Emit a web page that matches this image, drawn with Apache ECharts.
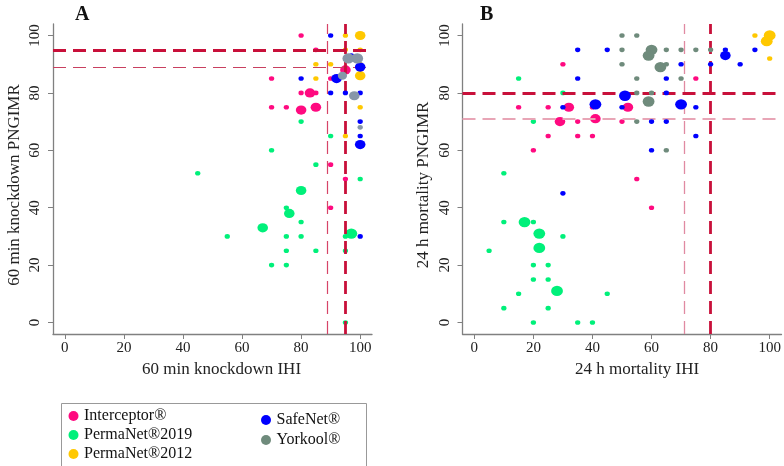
<!DOCTYPE html>
<html>
<head>
<meta charset="utf-8">
<script src="https://cdn.jsdelivr.net/npm/echarts@6/dist/echarts.min.js"></script>
<style>html,body{margin:0;padding:0;background:#fff}#c{width:784px;height:466px}</style>
</head>
<body>
<div id="c"></div>
<script>
// ---- data: [x, y, n] (n = relative bubble weight) ----
const seriesNames = ['Interceptor®', 'PermaNet®2019', 'PermaNet®2012', 'SafeNet®', 'Yorkool®'];
const tickValues = [0, 20, 40, 60, 80, 100];

// Panel A: 60 min knockdown
const interceptorA = [[80,100,1],[85,95,1],[95,88,4],[70,85,1],[90,85,1],[80,80,1],[85,80,1],[83,80,4],[70,75,1],[75,75,1],[80,74,4],[85,75,4],[90,55,1],[95,50,1],[90,40,1]];
const permanet2019A = [[80,70,1],[90,65,1],[70,60,1],[85,55,1],[100,50,1],[45,52,1],[80,46,4],[75,40,1],[76,38,4],[80,35,1],[67,33,4],[55,30,1],[75,30,1],[80,30,1],[95,30,1],[97,31,5],[75,25,1],[85,25,1],[95,25,1],[70,20,1],[75,20,1],[95,0,1]];
const permanet2012A = [[95,100,1],[100,100,4],[95,95,1],[100,95,1],[85,90,1],[90,90,1],[100,90,1],[85,85,1],[100,86,4],[100,75,1],[95,65,1]];
const safenetA = [[90,100,1],[97,93,1],[100,89,4],[80,85,1],[92,85,4],[90,80,1],[95,80,1],[100,80,1],[100,70,1],[100,65,1],[100,62,4],[100,30,1]];
const yorkoolA = [[96,92,5],[99,92,5],[94,86,3],[98,79,4],[100,68,1]];
const thresholdsA = {thick: 95, thin: 89};

// Panel B: 24 h mortality
const interceptorB = [[30,90,1],[75,85,1],[15,75,1],[25,75,1],[40,75,1],[32,75,4],[52,75,4],[35,70,1],[29,70,4],[41,71,4],[50,70,1],[25,65,1],[35,65,1],[40,65,1],[20,60,1],[55,50,1],[60,40,1]];
const permanet2019B = [[15,85,1],[30,80,1],[20,70,1],[10,52,1],[10,35,1],[17,35,5],[20,35,1],[22,31,5],[30,30,1],[5,25,1],[22,26,5],[20,20,1],[25,20,1],[20,15,1],[25,15,1],[28,11,5],[15,10,1],[45,10,1],[10,5,1],[25,5,1],[20,0,1],[35,0,1],[40,0,1]];
const permanet2012B = [[95,100,1],[100,100,5],[99,98,5],[100,92,1]];
const safenetB = [[35,95,1],[45,95,1],[85,95,1],[95,95,1],[85,93,4],[70,90,1],[80,90,1],[90,90,1],[35,85,1],[65,85,1],[65,80,1],[51,79,5],[30,75,1],[50,75,1],[41,76,5],[70,76,5],[75,75,1],[60,70,1],[65,70,1],[75,65,1],[60,60,1],[30,45,1]];
const yorkoolB = [[50,100,1],[55,100,1],[50,95,1],[65,95,1],[70,95,1],[75,95,1],[80,95,1],[60,95,5],[59,93,5],[50,90,1],[65,90,1],[63,89,5],[55,85,1],[70,85,1],[55,80,1],[60,80,1],[59,77,5],[55,70,1],[65,60,1]];
const thresholdsB = {thick: 80, thin: 71};

const xTitles = ['60 min knockdown IHI', '24 h mortality IHI'];
const yTitles = ['60 min knockdown PNGIMR', '24 h mortality PNGIMR'];
const panelLabels = ['A', 'B'];

// ---- styles ----
const FONT = 'Liberation Serif';
const colors = {
  'Interceptor®': '#FF0A80',
  'PermaNet®2019': '#00F07A',
  'PermaNet®2012': '#FFC800',
  'SafeNet®': '#0000FF',
  'Yorkool®': '#6F8B7C'
};
const yorkoolColorA = '#8797A8';

function sizeFn(v) { const d = 4.6 * Math.sqrt(v[2]); return [d * 1.15, d]; }

function mkAxisX(gi, name, padL) {
  return {
    type: 'value', gridIndex: gi, min: -4, max: 104,
    name: name, nameLocation: 'middle', nameGap: 24,
    nameTextStyle: {fontFamily: FONT, fontSize: 17, color: '#222', padding: [0,0,0,padL]},
    axisLine: {show: true, onZero: false, lineStyle: {color: '#808080', width: 1.3}},
    axisTick: {show: true, inside: false, length: 5, customValues: tickValues, lineStyle: {color: '#808080'}},
    axisLabel: {customValues: tickValues, fontFamily: FONT, fontSize: 15, color: '#222', margin: 7},
    splitLine: {show: false}
  };
}
function mkAxisY(gi, name) {
  return {
    type: 'value', gridIndex: gi, min: -4, max: 104,
    name: name, nameLocation: 'middle', nameGap: 30,
    nameTextStyle: {fontFamily: FONT, fontSize: 17, color: '#222', padding: [0,12,0,0]},
    axisLine: {show: true, onZero: false, lineStyle: {color: '#808080', width: 1.3}},
    axisTick: {show: true, inside: false, length: 5, customValues: tickValues, lineStyle: {color: '#808080'}},
    axisLabel: {customValues: tickValues, rotate: 90, fontFamily: FONT, fontSize: 15, color: '#222', margin: 10},
    splitLine: {show: false}
  };
}

function refLines(idx, th) {
  const thick = {color: '#C8103A', width: 2.8, type: [13, 7]};
  const thin = idx === 0 ? {color: '#D64468', width: 1.2, type: [13, 7]} : {color: '#E08AA2', width: 1.3, type: [13, 7]};
  const thinH = idx === 0 ? {color: '#C84060', width: 1.2, type: [13, 7]} : {color: '#E8A5B6', width: 2, type: [13, 7]};
  return {
    type: 'scatter', xAxisIndex: idx, yAxisIndex: idx, data: [], z: 1, silent: true,
    markLine: {
      silent: true, symbol: 'none', animation: false, label: {show: false},
      data: [
        {yAxis: th.thin, lineStyle: thinH},
        {xAxis: th.thin, lineStyle: thin},
        {yAxis: th.thick, lineStyle: thick},
        {xAxis: th.thick, lineStyle: thick}
      ]
    }
  };
}

function mkSeries(name, data, idx, color, z) {
  return {
    name: name, type: 'scatter', xAxisIndex: idx, yAxisIndex: idx,
    data: data, symbol: 'circle', symbolSize: sizeFn, z: z,
    itemStyle: {color: color, opacity: 1}
  };
}

const panels = [
  {i: 0, data: [permanet2019A, permanet2012A, interceptorA, safenetA, yorkoolA], th: thresholdsA},
  {i: 1, data: [permanet2019B, permanet2012B, interceptorB, safenetB, yorkoolB], th: thresholdsB}
];
const order = ['PermaNet®2019', 'PermaNet®2012', 'Interceptor®', 'SafeNet®', 'Yorkool®'];

const series = [];
panels.forEach(p => {
  series.push(refLines(p.i, p.th));
  p.data.forEach((d, k) => {
    const nm = order[k];
    let col = colors[nm];
    if (nm === 'Yorkool®' && p.i === 0) col = yorkoolColorA;
    series.push(mkSeries(nm, d, p.i, col, 2 + k));
  });
});

const legendText = {fontFamily: FONT, fontSize: 16, color: '#111'};
const legendPos = {
  'Interceptor®': [68.5, 408],
  'PermaNet®2019': [68.5, 427],
  'PermaNet®2012': [68.5, 446],
  'SafeNet®': [261, 412],
  'Yorkool®': [261, 432]
};
const legends = seriesNames.map(n => ({
  orient: 'horizontal', left: legendPos[n][0], top: legendPos[n][1],
  itemWidth: 11, itemHeight: 10, icon: 'circle', padding: 0,
  textStyle: legendText, selectedMode: false,
  data: [{name: n, itemStyle: {color: colors[n]}}]
}));

const chart = echarts.init(document.getElementById('c'), null, {renderer: 'canvas'});
chart.setOption({
  animation: false,
  backgroundColor: '#fff',
  title: [
    {text: panelLabels[0], left: 70, top: 0, textStyle: {fontFamily: FONT, fontSize: 20, fontWeight: 'bold', color: '#111'}},
    {text: panelLabels[1], left: 475, top: 0, textStyle: {fontFamily: FONT, fontSize: 20, fontWeight: 'bold', color: '#111'}}
  ],
  grid: [
    {left: 53, top: 24, width: 319, height: 310},
    {left: 462.5, top: 24, width: 319, height: 310}
  ],
  xAxis: [mkAxisX(0, xTitles[0], 18), mkAxisX(1, xTitles[1], 30)],
  yAxis: [mkAxisY(0, yTitles[0]), mkAxisY(1, yTitles[1])],
  legend: legends,
  graphic: [
    {type: 'rect', left: 59, top: 401, shape: {width: 305, height: 63}, style: {fill: 'none', stroke: '#999', lineWidth: 1}, z: -1}
  ],
  series: series
});
</script>
</body>
</html>
